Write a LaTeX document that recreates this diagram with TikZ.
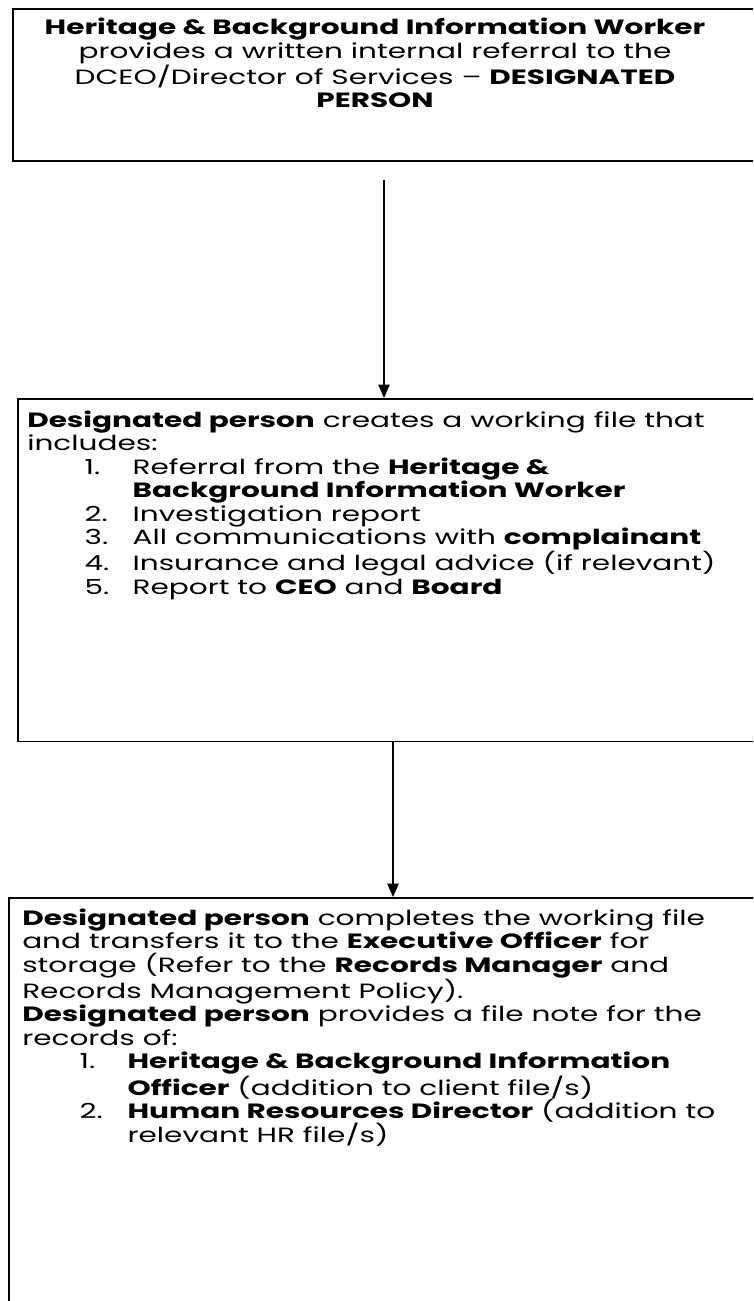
\documentclass[tikz,border=0pt]{standalone}
\usepackage{fontspec}
\setmainfont{Poppins}[FakeStretch=1.43]
\usetikzlibrary{arrows.meta,positioning}
\tikzset{
    %Define standard arrow tip
    >={Triangle[width=8.5pt,length=10pt]},
    %Define style for boxes
    stepbox/.style={
           rectangle,
           draw=black, line width=1.3pt,
           anchor=north west,
           inner sep=0pt},
    %Define style for the texts in the boxes
    steptext/.style={
           font=\fontsize{15.5}{17.6}\selectfont,
           inner sep=0pt,
           align=left},
    % Define arrow style
    flow/.style={
           ->,
           line width=0.9pt}
}
\newcommand{\numline}[2]{\hspace*{43pt}\makebox[36pt][l]{#1}#2}
\newcommand{\contline}[1]{\hspace*{79pt}#1}

\begin{document}
\begin{tikzpicture}[x=0.75pt,y=-0.75pt]
\clip (0,0) rectangle (753,1301);
\fill[white] (0,0) rectangle (753,1301);
\node[stepbox, minimum width=591pt, minimum height=114pt](top) at (12,8) {};
\node[stepbox, minimum width=587pt, minimum height=257pt](mid) at (17,398) {};
\node[stepbox, minimum width=594pt, minimum height=333pt](bot) at (8,897) {};

\node[steptext, align=center, anchor=north](toptext) at (375,18)
  {\textbf{Heritage \& Background Information Worker}\\
   provides a written internal referral to the\\
   DCEO/Director of Services -- \textbf{DESIGNATED}\\
   \textbf{PERSON}};
\node[steptext, below right=9.5pt and 7.5pt of mid.north west](midtext)
  {\textbf{Designated person} creates a working file that\\
   includes:\\
   \numline{1.}{Referral from the \textbf{Heritage \&}}\\
   \contline{\textbf{Background Information Worker}}\\
   \numline{2.}{Investigation report}\\
   \numline{3.}{All communications with \textbf{complainant}}\\
   \numline{4.}{Insurance and legal advice (if relevant)}\\
   \numline{5.}{Report to \textbf{CEO} and \textbf{Board}}};
\node[steptext, below right=8.5pt and 10.5pt of bot.north west](bottext)
  {\textbf{Designated person} completes the working file\\
   and transfers it to the \textbf{Executive Officer} for\\
   storage (Refer to the \textbf{Records Manager} and\\
   Records Management Policy).\\
   \textbf{Designated person} provides a file note for the\\
   records of:\\
   \numline{1.}{\textbf{Heritage \& Background Information}}\\
   \contline{\textbf{Officer} (addition to client file/s)}\\
   \numline{2.}{\textbf{Human Resources Director} (addition to}\\
   \contline{relevant HR file/s)}};

\coordinate (a1) at ([xshift=279pt,yshift=-13.5pt]top.south west);
\draw[flow] (a1) -- (a1 |- mid.north);
\coordinate (a2) at ([xshift=282pt]mid.south west);
\draw[flow] (a2) -- (a2 |- bot.north);
\end{tikzpicture}
\end{document}
